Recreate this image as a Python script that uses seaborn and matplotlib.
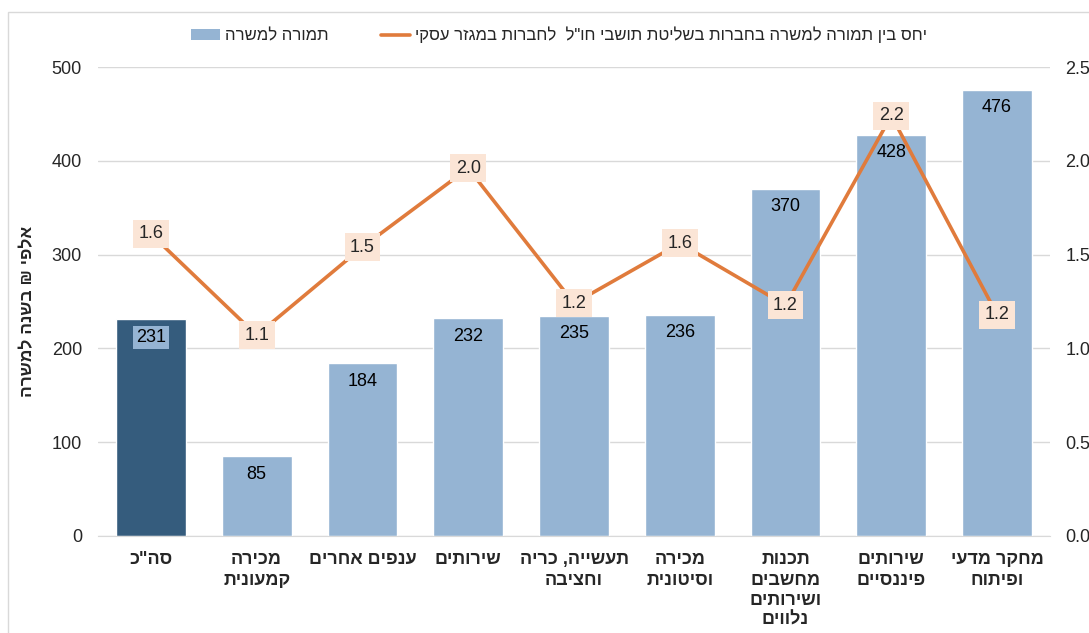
import numpy as np
import pandas as pd
import matplotlib
matplotlib.use('Agg')
import matplotlib.pyplot as plt
from matplotlib.patches import Patch, Rectangle
from matplotlib.lines import Line2D
import seaborn as sns

# matplotlib has no bidi support -> reverse every Hebrew line by hand
def rtl(s):
    return '\n'.join(line[::-1] for line in s.split('\n'))

categories = ['סה"כ', 'מכירה\nקמעונית', 'ענפים אחרים', 'שירותים', 'תעשייה, כריה\nוחציבה',
              'מכירה\nוסיטונית', 'תכנות\nמחשבים\nושירותים\nנלווים', 'שירותים\nפיננסיים',
              'מחקר מדעי\nופיתוח']
pay = [231, 85, 184, 232, 235, 236, 370, 428, 476]        # אלפי ש"ח בשנה למשרה
ratio = [1.61, 1.07, 1.54, 1.96, 1.24, 1.56, 1.23, 2.24, 1.18]

bar_label = 'תמורה למשרה'
line_label = 'יחס בין תמורה למשרה בחברות בשליטת תושבי חו"ל  לחברות במגזר עסקי'
ylabel = 'אלפי ₪ בשנה למשרה'

dark = '#355C7D'
light = '#95B4D3'
orange = '#E07B3C'
peach = '#FBE5D6'
grid = '#D9D9D9'

sns.set_style('white')
plt.rcParams['font.family'] = ['Liberation Sans', 'DejaVu Sans']

df = pd.DataFrame({'cat': [rtl(c) for c in categories], 'pay': pay})

fig = plt.figure(figsize=(10.89, 6.33), dpi=100)
ax = fig.add_axes([98 / 1089, 97 / 633, 952 / 1089, 469 / 633])

colors = [dark] + [light] * (len(pay) - 1)
sns.barplot(data=df, x='cat', y='pay', hue='cat', palette=colors, legend=False,
            width=0.66, saturation=1, ax=ax)
ax.set_xlim(-0.5, len(pay) - 0.5)
ax.set_ylim(0, 500)
ax.set_yticks(range(0, 501, 100))
ax.yaxis.grid(True, color=grid, lw=1)
ax.set_axisbelow(True)
for s in ['top', 'left', 'right']:
    ax.spines[s].set_visible(False)
ax.spines['bottom'].set_color(grid)
ax.tick_params(axis='y', length=0, pad=11.5, labelsize=13)
ax.tick_params(axis='x', length=0, pad=11, labelsize=13)
for t in ax.get_xticklabels():
    t.set_fontweight('bold')
    t.set_linespacing(1.25)
    t.set_verticalalignment('top')
ax.set_xlabel('')
ax.set_ylabel(rtl(ylabel), fontsize=12.5, fontweight='bold')
ax.yaxis.set_label_coords(-0.066, 0.48)

for i, v in enumerate(pay):
    kw = {}
    if i == 0:
        kw['bbox'] = dict(boxstyle='square,pad=0.15', fc=light, ec='none')
    ax.annotate(str(v), (i, v), xytext=(0, -18), textcoords='offset pixels',
                ha='center', va='center', fontsize=13, color='black', **kw)

ax2 = ax.twinx()
sns.lineplot(x=np.arange(len(ratio)), y=ratio, ax=ax2, color=orange, lw=2.6, sort=False)
ax2.set_ylim(0, 2.5)
ax2.set_yticks(np.arange(0, 2.51, 0.5))
ax2.set_yticklabels([f'{t:.1f}' for t in np.arange(0, 2.51, 0.5)])
ax2.tick_params(axis='y', length=0, pad=11, labelsize=13)
for s in ax2.spines.values():
    s.set_visible(False)
ax2.set_ylabel('')
for i, r in enumerate(ratio):
    ax2.text(i, r, f'{r:.1f}', ha='center', va='center', fontsize=13,
             bbox=dict(boxstyle='square,pad=0.3', fc=peach, ec='none'))

handles = [Patch(fc=light, ec='none'), Line2D([], [], color=orange, lw=2.6)]
fig.legend(handles, [rtl(bar_label), rtl(line_label)], loc='center',
           bbox_to_anchor=(559 / 1089, 1 - 35 / 633), ncol=2, frameon=False,
           fontsize=12, handlelength=1.7, handleheight=0.6, columnspacing=3.2,
           handletextpad=0.3)

# outer chart frame
fig.patches.append(Rectangle((8 / 1089, -0.05), 1.2, 1 - 12 / 633 + 0.05,
                             transform=fig.transFigure, fill=False, ec=grid, lw=1))

fig.savefig('out.png', dpi=100)
